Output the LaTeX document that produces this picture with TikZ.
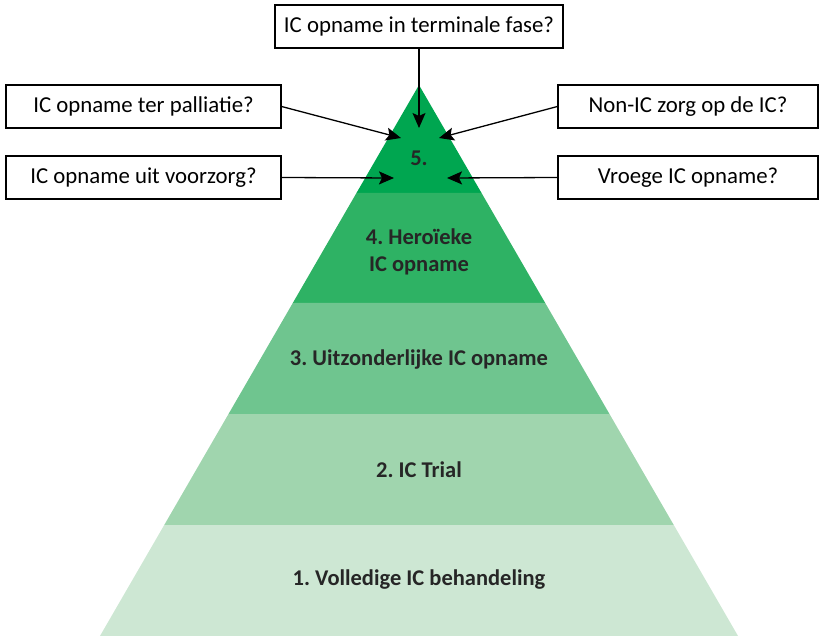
\documentclass[tikz,border=0pt]{standalone}
\usepackage{fontspec}
\setmainfont{Carlito}
\frenchspacing
\usetikzlibrary{arrows.meta}

\definecolor{laag5}{RGB}{0,166,80}
\definecolor{laag4}{RGB}{46,178,100}
\definecolor{laag3}{RGB}{111,197,143}
\definecolor{laag2}{RGB}{160,213,174}
\definecolor{laag1}{RGB}{205,231,211}

\tikzset{
    vraag/.style={draw, line width=1.2pt, minimum height=43pt, inner sep=0pt, font=\fontsize{22.8}{26}\selectfont},
    pijl/.style={line width=1.3pt, -{Stealth[length=15pt, width=13pt, inset=3pt]}},
    laagtekst/.style={font=\fontsize{22.5}{27}\selectfont\bfseries, align=center, text=black!85}
}

\begin{document}
\begin{tikzpicture}[x=1pt, y=-1pt]
    \useasboundingbox (0, 0) rectangle (822, 636);

    % Piramide: top op (419,85), basis op y=636
    \foreach \boven/\onder/\kleur in {85/193/laag5, 193/303/laag4, 303/414/laag3, 414/525/laag2, 525/636/laag1} {
        \pgfmathsetmacro{\hb}{(\boven-85)*0.579}
        \pgfmathsetmacro{\ho}{(\onder-85)*0.579}
        \fill[\kleur] (419-\hb, \boven) -- (419+\hb, \boven) -- (419+\ho, \onder) -- (419-\ho, \onder) -- cycle;
    }

    \node[laagtekst] (l5) at (419, 158) {5.};
    \node[laagtekst] (l4) at (419, 252) {4. Heroïeke\\IC opname};
    \node[laagtekst] (l3) at (419, 360) {3. Uitzonderlijke IC opname};
    \node[laagtekst] (l2) at (419, 470) {2. IC Trial};
    \node[laagtekst] (l1) at (419, 580) {1. Volledige IC behandeling};

    % Vragen
    \node[vraag, minimum width=288pt] (terminaal) at (419, 26.5) {IC opname in terminale fase?};
    \node[vraag, minimum width=275pt] (palliatie) at (143.5, 106.5) {IC opname ter palliatie?};
    \node[vraag, minimum width=275pt] (voorzorg) at (143.5, 177.5) {IC opname uit voorzorg?};
    \node[vraag, minimum width=260pt] (nonic) at (688, 106.5) {Non-IC zorg op de IC?};
    \node[vraag, minimum width=260pt] (vroeg) at (688, 177.5) {Vroege IC opname?};

    \coordinate (pT) at (419, 128);
    \coordinate (pP) at (401, 138);
    \coordinate (pN) at (439, 138);
    \coordinate (pV) at (394, 178);
    \coordinate (pR) at (447, 178);

    \draw[pijl] (terminaal.south) -- (pT);
    \draw[pijl] (palliatie.east) -- (pP);
    \draw[pijl] (nonic.west) -- (pN);
    \draw[pijl] (voorzorg.east) -- (pV);
    \draw[pijl] (vroeg.west) -- (pR);
\end{tikzpicture}
\end{document}
